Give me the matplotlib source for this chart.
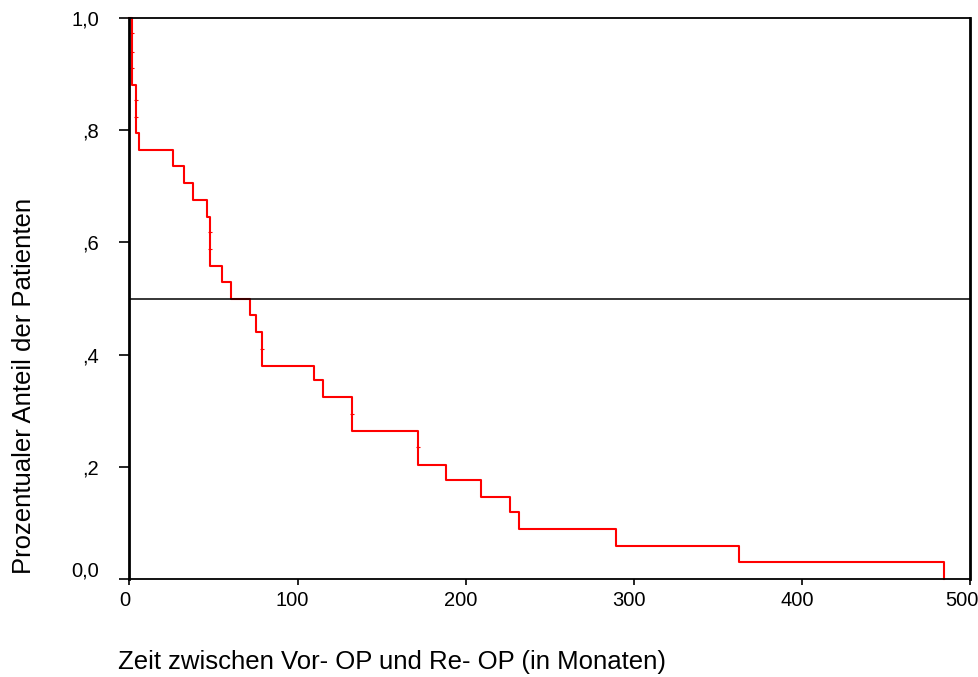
import matplotlib
matplotlib.use("Agg")
import matplotlib.pyplot as plt
import matplotlib.transforms as mtransforms
from matplotlib.ticker import FixedLocator

plt.rcParams['font.family'] = ['Liberation Sans', 'DejaVu Sans']

# step times (months) and survival levels
times = [0, 1.5, 3.7, 5.5, 26.1, 32.4, 38.0, 46.3, 47.9, 54.8, 60.2, 71.7, 75.3,
         79.0, 109.9, 115.3, 132.2, 171.4, 188.5, 209.1, 226.4, 231.5, 289.4,
         362.8, 484.5]
surv = [1.0, 0.881, 0.795, 0.765, 0.736, 0.705, 0.676, 0.646, 0.558, 0.529, 0.5,
        0.471, 0.441, 0.380, 0.355, 0.325, 0.264, 0.204, 0.176, 0.146, 0.119,
        0.089, 0.059, 0.030, 0.0]

# censored marks
cens_t = [1.5, 1.5, 1.5, 3.7, 3.7, 47.9, 47.9, 79.0, 132.2, 171.4]
cens_s = [0.973, 0.939, 0.911, 0.854, 0.824, 0.619, 0.589, 0.410, 0.295, 0.235]

x_ticks = [0, 100, 200, 300, 400, 500]
y_ticks = [0.0, 0.2, 0.4, 0.6, 0.8, 1.0]
y_tick_labels = ["0,0", ",2", ",4", ",6", ",8", "1,0"]

fig = plt.figure(figsize=(9.79, 6.77), dpi=100)
ax = fig.add_axes([129.5 / 979, 1 - 579 / 677, (970 - 129.5) / 979, (579 - 18) / 677])

ax.step(times, surv, where="post", color="red", lw=1.5, clip_on=False, zorder=3)
ax.plot(cens_t, cens_s, ls="none", marker="_", ms=3, mew=0.8, color="red",
        clip_on=False, zorder=3)
ax.axhline(0.5, color="black", lw=1.1, zorder=4)

ax.set_xlim(0, 500)
ax.set_ylim(0, 1)
ax.xaxis.set_major_locator(FixedLocator(x_ticks))
ax.set_xticklabels([str(v) for v in x_ticks])
ax.yaxis.set_major_locator(FixedLocator(y_ticks))
ax.set_yticklabels(y_tick_labels)

ax.tick_params(axis="x", length=4, width=1.2, pad=5, labelsize=14.5)
ax.tick_params(axis="y", length=7, width=1.2, pad=15, labelsize=14.5)

# SPSS-like label nudges
shift_left = mtransforms.ScaledTranslation(-5 / 100, 0, fig.dpi_scale_trans)
for i, lab in enumerate(ax.get_xticklabels()):
    dx = -8 if i == len(x_ticks) - 1 else -5
    lab.set_transform(lab.get_transform() + mtransforms.ScaledTranslation(dx / 100, 0, fig.dpi_scale_trans))
ylabs = ax.get_yticklabels()
ylabs[0].set_transform(ylabs[0].get_transform() + mtransforms.ScaledTranslation(0, 10 / 100, fig.dpi_scale_trans))

for side in ["left", "right"]:
    ax.spines[side].set_linewidth(2.0)
for side in ["top", "bottom"]:
    ax.spines[side].set_linewidth(1.3)
for sp in ax.spines.values():
    sp.set_zorder(5)

ax.set_xlabel("Zeit zwischen Vor- OP und Re- OP (in Monaten)", fontsize=18.5,
              ha="left", va="center")
ax.xaxis.set_label_coords(-0.0137, -0.148)
ax.set_ylabel("Prozentualer Anteil der Patienten", fontsize=18.5, va="center")
ax.yaxis.set_label_coords(-0.126, 0.344)

fig.savefig("out.png", dpi=100)
